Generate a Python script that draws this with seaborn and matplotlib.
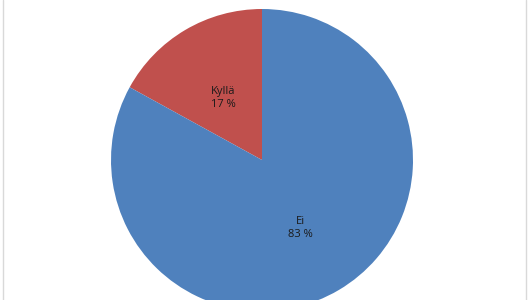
import matplotlib
matplotlib.use("Agg")
import matplotlib.pyplot as plt
from matplotlib.lines import Line2D
import matplotlib.transforms as mtransforms
import seaborn as sns

categories = ["Kyllä", "Ei"]
values = [17, 83]
pct_labels = ["17 %", "83 %"]

sns.set_theme(style="white")
plt.rcParams['font.family'] = ['Open Sans', 'DejaVu Sans']
colors = sns.color_palette(["#C0504D", "#4F81BD"])

W, H = 528, 300
fig = plt.figure(figsize=(W / 100, H / 100), dpi=100)
fig.patch.set_facecolor("white")

cx, cy, r = 262, 160, 151
ax = fig.add_axes([(cx - r) / W, (H - cy - r) / H, 2 * r / W, 2 * r / H])
labels = [f"{c}\n{p}" for c, p in zip(categories, pct_labels)]
wedges, texts = ax.pie(values, labels=labels, colors=colors, startangle=90,
                       counterclock=True, labeldistance=0.5, radius=1,
                       wedgeprops=dict(linewidth=0),
                       textprops=dict(ha="center", va="center", fontsize=8,
                                      color="#1a1a1a", linespacing=1.2))
shift = mtransforms.ScaledTranslation(0, -3 / 100, fig.dpi_scale_trans)
for t in texts:
    t.set_transform(t.get_transform() + shift)
ax.set_xlim(-1, 1)
ax.set_ylim(-1, 1)
ax.set_aspect("auto")
ax.axis("off")

for x in (2.5, 525.5):
    fig.add_artist(Line2D([x / W, x / W], [0, 1], transform=fig.transFigure,
                          color="#D9D9D9", linewidth=1))

fig.savefig("out.png", dpi=100, facecolor="white")
